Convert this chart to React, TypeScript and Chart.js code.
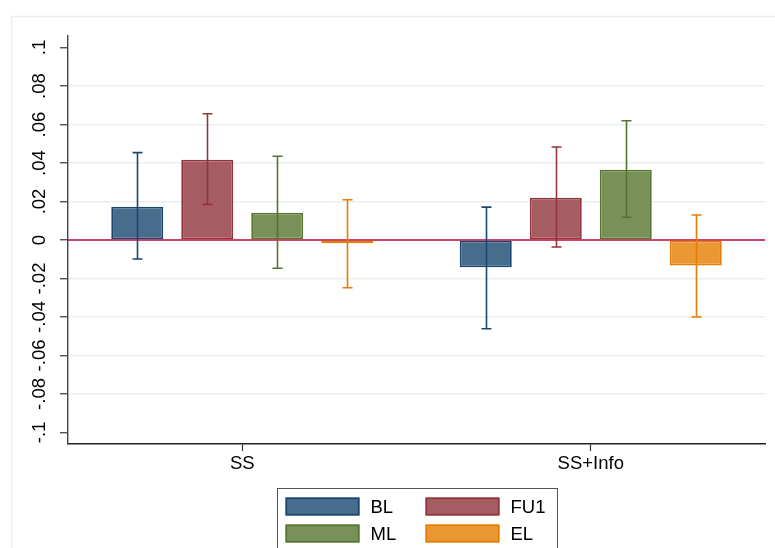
import React, { useEffect, useRef } from 'react';
import { Chart, registerables } from 'chart.js';

Chart.register(...registerables);

const categories = ['SS', 'SS+Info'];
const seriesNames = ['BL', 'FU1', 'ML', 'EL'];

const blValues = [0.0173, -0.0142];
const blLow = [-0.0099, -0.0461];
const blHigh = [0.0454, 0.0171];

const fu1Values = [0.0417, 0.022];
const fu1Low = [0.0185, -0.0036];
const fu1High = [0.0656, 0.0483];

const mlValues = [0.0142, 0.0365];
const mlLow = [-0.0147, 0.0118];
const mlHigh = [0.0435, 0.062];

const elValues = [-0.0017, -0.0132];
const elLow = [-0.0248, -0.04];
const elHigh = [0.0209, 0.013];

const yTickValues = [-0.1, -0.08, -0.06, -0.04, -0.02, 0, 0.02, 0.04, 0.06, 0.08, 0.1];
const yTickLabels = ['-.1', '-.08', '-.06', '-.04', '-.02', '0', '.02', '.04', '.06', '.08', '.1'];

const lineColors = ['#1a476f', '#90353b', '#55752f', '#e37e00'];
const fillColors = ['#486c8c', '#a65d62', '#779159', '#e99833'];

const FONT = '"Liberation Sans", Arial, Helvetica, sans-serif';

export default function App() {
  const ref = useRef<HTMLCanvasElement>(null);

  useEffect(() => {
    document.body.style.margin = '0';
    const canvas = ref.current;
    if (!canvas) return;

    const frame = {
      id: 'frame',
      beforeDraw(chart: any) {
        const { ctx } = chart;
        ctx.save();
        ctx.fillStyle = '#ffffff';
        ctx.fillRect(0, 0, chart.width, chart.height);
        ctx.strokeStyle = '#eaf0f1';
        ctx.lineWidth = 1.5;
        ctx.strokeRect(11.5, 16.5, chart.width + 20, chart.height + 20);
        ctx.restore();
      },
    };

    const zeroLine = {
      id: 'zeroLine',
      beforeDatasetsDraw(chart: any) {
        const { ctx, chartArea } = chart;
        const py = chart.scales.y.getPixelForValue(0);
        ctx.save();
        ctx.strokeStyle = '#c10534';
        ctx.lineWidth = 1.6;
        ctx.beginPath();
        ctx.moveTo(chartArea.left, py);
        ctx.lineTo(chartArea.right, py);
        ctx.stroke();
        ctx.restore();
      },
    };

    const errorBars = {
      id: 'errorBars',
      afterDatasetsDraw(chart: any) {
        const { ctx } = chart;
        const y = chart.scales.y;
        chart.data.datasets.forEach((ds: any, di: number) => {
          const meta = chart.getDatasetMeta(di);
          meta.data.forEach((bar: any, i: number) => {
            const x = Math.round(bar.x) + 0.5;
            const yl = y.getPixelForValue(ds.errLow[i]);
            const yh = y.getPixelForValue(ds.errHigh[i]);
            ctx.save();
            ctx.strokeStyle = ds.errColor;
            ctx.lineWidth = 1.6;
            ctx.beginPath();
            ctx.moveTo(x, yl);
            ctx.lineTo(x, yh);
            ctx.moveTo(x - 5, yl);
            ctx.lineTo(x + 5, yl);
            ctx.moveTo(x - 5, yh);
            ctx.lineTo(x + 5, yh);
            ctx.stroke();
            ctx.restore();
          });
        });
      },
    };

    const legendBox = {
      id: 'legendBox',
      afterDraw(chart: any) {
        const { ctx, chartArea } = chart;
        const cx = (chartArea.left + chartArea.right) / 2;
        const boxL = Math.round(cx - 140) + 0.5;
        const boxT = Math.round(chartArea.bottom + 44) + 0.5;
        ctx.save();
        ctx.strokeStyle = '#555555';
        ctx.lineWidth = 1;
        ctx.strokeRect(boxL, boxT, 280, 100);
        ctx.font = `18.5px ${FONT}`;
        ctx.textBaseline = 'middle';
        ctx.textAlign = 'left';
        chart.data.datasets.forEach((ds: any, i: number) => {
          const col = i % 2;
          const row = Math.floor(i / 2);
          const sx = boxL + 8 + col * 140;
          const sy = boxT + 9 + row * 27;
          ctx.fillStyle = ds.backgroundColor;
          ctx.fillRect(sx, sy, 74, 18);
          ctx.strokeStyle = ds.borderColor;
          ctx.lineWidth = 1.6;
          ctx.strokeRect(sx + 0.8, sy + 0.8, 72.4, 16.4);
          ctx.fillStyle = '#000000';
          ctx.fillText(ds.label, sx + 85, sy + 10);
        });
        ctx.restore();
      },
    };

    const valueSets = [blValues, fu1Values, mlValues, elValues];
    const lowSets = [blLow, fu1Low, mlLow, elLow];
    const highSets = [blHigh, fu1High, mlHigh, elHigh];

    const chart = new Chart(canvas, {
      type: 'bar',
      data: {
        labels: categories,
        datasets: seriesNames.map((name, i) => ({
          label: name,
          data: valueSets[i],
          errLow: lowSets[i],
          errHigh: highSets[i],
          errColor: lineColors[i],
          backgroundColor: fillColors[i],
          borderColor: lineColors[i],
          borderWidth: 1.8,
          borderSkipped: false,
          categoryPercentage: 0.8034,
          barPercentage: 0.743,
        })) as any,
      },
      options: {
        responsive: false,
        animation: false,
        devicePixelRatio: 1,
        layout: { padding: { top: 36, right: 10, left: 0, bottom: 0 } },
        plugins: {
          legend: { display: false },
          tooltip: { enabled: false },
          title: { display: false },
        },
        scales: {
          x: {
            type: 'category',
            offset: true,
            afterFit(scale: any) {
              scale.height = 104;
            },
            grid: {
              offset: false,
              drawOnChartArea: false,
              drawTicks: true,
              tickLength: 7,
              tickColor: '#333333',
              tickWidth: 1.2,
            },
            border: { display: true, color: '#222222', width: 1.4 },
            ticks: {
              color: '#000000',
              font: { family: FONT, size: 18.5 },
              padding: 2,
              maxRotation: 0,
              minRotation: 0,
            },
          },
          y: {
            type: 'linear',
            min: -0.106,
            max: 0.106,
            afterFit(scale: any) {
              scale.width = 68;
            },
            afterBuildTicks(scale: any) {
              scale.ticks = yTickValues.map((v) => ({ value: v }));
            },
            grid: {
              color: (c: any) => {
                const v = c.tick ? c.tick.value : 0;
                if (Math.abs(v) < 1e-9 || Math.abs(Math.abs(v) - 0.1) < 1e-9) return 'rgba(0,0,0,0)';
                return '#e8eff1';
              },
              lineWidth: 1.5,
              drawTicks: true,
              tickLength: 8,
              tickColor: '#333333',
              tickWidth: 1.2,
            },
            border: { display: true, color: '#444444', width: 1.4 },
            ticks: {
              color: '#000000',
              font: { family: FONT, size: 18.5 },
              minRotation: 90,
              maxRotation: 90,
              crossAlign: 'center',
              padding: 4,
              callback: (_v: any, i: number) => yTickLabels[i],
            },
          },
        },
      },
      plugins: [frame, zeroLine, errorBars, legendBox],
    } as any);

    return () => {
      chart.destroy();
    };
  }, []);

  return (
    <div style={{ width: 775, height: 548 }}>
      <canvas ref={ref} width={775} height={548} />
    </div>
  );
}
